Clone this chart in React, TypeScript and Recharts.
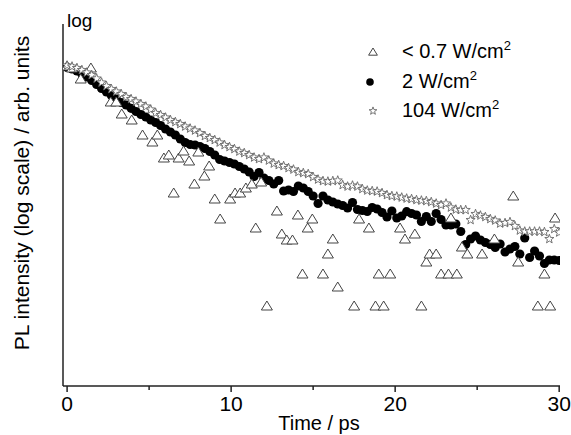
import { ScatterChart, Scatter, XAxis, YAxis } from 'recharts'

// time axis (ps), shared by the 2 W/cm2 and 104 W/cm2 traces
const TIME = [
  0, 0.3, 0.6, 0.9, 1.2, 1.5, 1.8, 2.1, 2.4, 2.7,
  3, 3.3, 3.6, 3.9, 4.2, 4.5, 4.8, 5.1, 5.4, 5.7,
  6, 6.3, 6.6, 6.9, 7.2, 7.5, 7.8, 8.1, 8.4, 8.7,
  9, 9.3, 9.6, 9.9, 10.2, 10.5, 10.8, 11.1, 11.4, 11.7,
  12, 12.3, 12.6, 12.9, 13.2, 13.5, 13.8, 14.1, 14.4, 14.7,
  15, 15.3, 15.6, 15.9, 16.2, 16.5, 16.8, 17.1, 17.4, 17.7,
  18, 18.3, 18.6, 18.9, 19.2, 19.5, 19.8, 20.1, 20.4, 20.7,
  21, 21.3, 21.6, 21.9, 22.2, 22.5, 22.8, 23.1, 23.4, 23.7,
  24, 24.3, 24.6, 24.9, 25.2, 25.5, 25.8, 26.1, 26.4, 26.7,
  27, 27.3, 27.6, 27.9, 28.2, 28.5, 28.8, 29.1, 29.4, 29.7,
  30,
]

// log10 of PL intensity (arb. units)
const MID_LOG = [
  2.385, 2.37, 2.35, 2.32, 2.29, 2.255, 2.215, 2.175, 2.14, 2.105,
  2.07, 2.035, 2.01, 1.977, 1.945, 1.915, 1.89, 1.86, 1.835, 1.805,
  1.77, 1.74, 1.71, 1.67, 1.635, 1.615, 1.61, 1.595, 1.575, 1.545,
  1.51, 1.465, 1.45, 1.435, 1.42, 1.395, 1.37, 1.34, 1.295, 1.335,
  1.28, 1.255, 1.22, 1.255, 1.15, 1.16, 1.145, 1.2, 1.18, 1.145,
  1.1, 1.025, 1.1, 1.06, 1.04, 1.02, 1.005, 0.98, 1.035, 0.965,
  0.955, 0.945, 0.985, 0.97, 0.935, 0.89, 0.95, 0.88, 0.9, 0.943,
  0.925, 0.91, 0.845, 0.895, 0.845, 0.925, 0.865, 0.81, 0.81, 0.82,
  0.745, 0.615, 0.67, 0.7, 0.66, 0.635, 0.615, 0.585, 0.62, 0.54,
  0.57, 0.595, 0.52, 0.68, 0.485, 0.55, 0.5, 0.425, 0.46, 0.46,
  0.455,
]

const HIGH_LOG = [
  2.405, 2.395, 2.38, 2.36, 2.335, 2.31, 2.275, 2.235, 2.2, 2.17,
  2.145, 2.12, 2.09, 2.07, 2.045, 2.02, 1.995, 1.965, 1.93, 1.91,
  1.885, 1.86, 1.84, 1.82, 1.795, 1.775, 1.755, 1.73, 1.7, 1.68,
  1.66, 1.635, 1.61, 1.59, 1.57, 1.545, 1.53, 1.51, 1.485, 1.47,
  1.485, 1.455, 1.425, 1.41, 1.4, 1.38, 1.365, 1.34, 1.33, 1.32,
  1.29, 1.265, 1.25, 1.245, 1.25, 1.255, 1.21, 1.195, 1.205, 1.195,
  1.17, 1.155, 1.15, 1.145, 1.13, 1.11, 1.1, 1.095, 1.085, 1.075,
  1.07, 1.06, 1.055, 1.05, 1.04, 1.025, 1.01, 1.025, 0.985, 0.965,
  0.96, 0.96, 0.86, 0.92, 0.905, 0.89, 0.87, 0.855, 0.825, 0.83,
  0.84, 0.8, 0.755, 0.745, 0.745, 0.745, 0.745, 0.74, 0.67, 0.77,
  0.735,
]

// < 0.7 W/cm2: noisy, only the non-zero bins
const LOW_TIME = [
  0, 0.3, 0.83, 1.45, 2.66, 3, 3.33, 3.94, 4.6, 5.2,
  5.5, 5.9, 6.2, 6.5, 6.8, 7.1, 7.44, 7.76, 8, 8.37,
  8.66, 9, 9.33, 9.94, 10.24, 10.55, 10.9, 11.26, 11.5, 11.83,
  12.18, 12.79, 13.09, 13.39, 13.74, 14.07, 14.35, 14.67, 14.95, 15.6,
  15.9, 16.2, 16.5, 17.5, 17.8, 18.4, 18.8, 19, 19.3, 19.7,
  20.3, 20.6, 21.2, 21.6, 21.9, 22.1, 22.5, 22.8, 23.25, 23.4,
  23.76, 24.07, 24.4, 25.3, 26.05, 27.2, 27.5, 28.7, 29.1, 29.45,
  29.75,
]
const LOW_LOG = [
  2.4, 2.38, 2.27, 2.38, 2.04, 2.04, 1.92, 1.86, 1.71, 1.64,
  1.71, 1.48, 1.51, 1.13, 1.48, 1.55, 1.45, 1.22, 1.54, 1.3,
  1.4, 1.07, 0.87, 1.07, 1.13, 1.13, 1.18, 1.22, 0.78, 1.24,
  0, 0.95, 0.72, 0.66, 0.66, 0.91, 0.32, 0.78, 0.87, 0.32,
  0.52, 0.67, 0.19, 0, 0.87, 0.78, 0, 0.32, 0, 0.32,
  0.78, 0.67, 0.72, 0, 0.44, 0.52, 0.52, 0.32, 0.32, 0.88,
  0.32, 0.59, 0.52, 0.52, 0.67, 1.1, 0.44, 0, 0.32, 0,
  0.88,
]

const X_TICKS = [0, 5, 10, 15, 20, 25, 30]

const lowRows = LOW_TIME.map((t, i) => ({ t, v: LOW_LOG[i] }))
const midRows = TIME.map((t, i) => ({ t, v: MID_LOG[i] }))
const highRows = TIME.map((t, i) => ({ t, v: HIGH_LOG[i] }))

const FONT = '"Liberation Sans", Arial, Helvetica, sans-serif'

function Tri({ cx, cy, s = 1 }: { cx: number; cy: number; s?: number }) {
  return (
    <polygon
      points={`${cx},${cy - 5 * s} ${cx + 5.5 * s},${cy + 4 * s} ${cx - 5.5 * s},${cy + 4 * s}`}
      fill="#fff"
      stroke="#444"
      strokeWidth={1}
    />
  )
}

function Star({ cx, cy, s = 1 }: { cx: number; cy: number; s?: number }) {
  const pts: string[] = []
  for (let k = 0; k < 10; k++) {
    const r = (k % 2 === 0 ? 4.8 : 2.0) * s
    const a = -Math.PI / 2 + (k * Math.PI) / 5
    pts.push(`${cx + r * Math.cos(a)},${cy + r * Math.sin(a)}`)
  }
  return <polygon points={pts.join(' ')} fill="#fff" stroke="#666" strokeWidth={0.9} />
}

function Dot({ cx, cy, r = 4.6 }: { cx: number; cy: number; r?: number }) {
  return <circle cx={cx} cy={cy} r={r} fill="#000" />
}

function TimeTick({ x, y, payload }: any) {
  const major = payload.value % 10 === 0
  return (
    <g>
      <line x1={x} x2={x} y1={y - 8} y2={y - 8 + (major ? 6 : 4)} stroke="#222" strokeWidth={1.5} />
      {major && (
        <text x={x} y={y + 2} dy="0.71em" textAnchor="middle" fontSize={21} fill="#000" fontFamily={FONT}>
          {payload.value}
        </text>
      )}
    </g>
  )
}

export default function App() {
  return (
    <div style={{ position: 'absolute', left: 0, top: 0, width: 571, height: 435, background: '#fff', fontFamily: FONT }}>
      <ScatterChart width={571} height={435} margin={{ top: 24, right: 11, bottom: 0, left: 3 }}>
        <XAxis
          type="number"
          dataKey="t"
          domain={[-0.25, 30.05]}
          ticks={X_TICKS}
          interval={0}
          allowDataOverflow
          height={49}
          tickLine={false}
          tickSize={6}
          tickMargin={2}
          tick={<TimeTick />}
          axisLine={{ stroke: '#222', strokeWidth: 1.5 }}
        />
        <YAxis
          type="number"
          dataKey="v"
          domain={[-0.8, 2.82]}
          allowDataOverflow
          width={60}
          tick={false}
          tickLine={false}
          axisLine={{ stroke: '#222', strokeWidth: 1.5 }}
        />
        <Scatter data={midRows} isAnimationActive={false} shape={(p: any) => <Dot cx={p.cx} cy={p.cy} />} />
        <Scatter data={lowRows} isAnimationActive={false} shape={(p: any) => <Tri cx={p.cx} cy={p.cy} />} />
        <Scatter data={highRows} isAnimationActive={false} shape={(p: any) => <Star cx={p.cx} cy={p.cy} />} />
      </ScatterChart>
      <svg width={571} height={435} style={{ position: 'absolute', left: 0, top: 0, pointerEvents: 'none' }} fontFamily={FONT}>
        <text x={67} y={27} fontSize={19} fill="#000">log</text>
        <text x={29} y={193} fontSize={21} fill="#000" textAnchor="middle" transform="rotate(-90 29 193)">
          PL intensity (log scale) / arb. units
        </text>
        <text x={319} y={430} fontSize={20} fill="#000" textAnchor="middle">Time / ps</text>
        <Tri cx={373} cy={52} s={0.8} />
        <text x={402} y={58} fontSize={20} fill="#000">
          {'< 0.7 W/cm'}
          <tspan fontSize={13} dy={-8}>2</tspan>
        </text>
        <Dot cx={370} cy={82} r={3.8} />
        <text x={402} y={88} fontSize={20} fill="#000">
          2 W/cm
          <tspan fontSize={13} dy={-8}>2</tspan>
        </text>
        <Star cx={373} cy={111} s={0.85} />
        <text x={402} y={117} fontSize={20} fill="#000">
          104 W/cm
          <tspan fontSize={13} dy={-8}>2</tspan>
        </text>
      </svg>
    </div>
  )
}
